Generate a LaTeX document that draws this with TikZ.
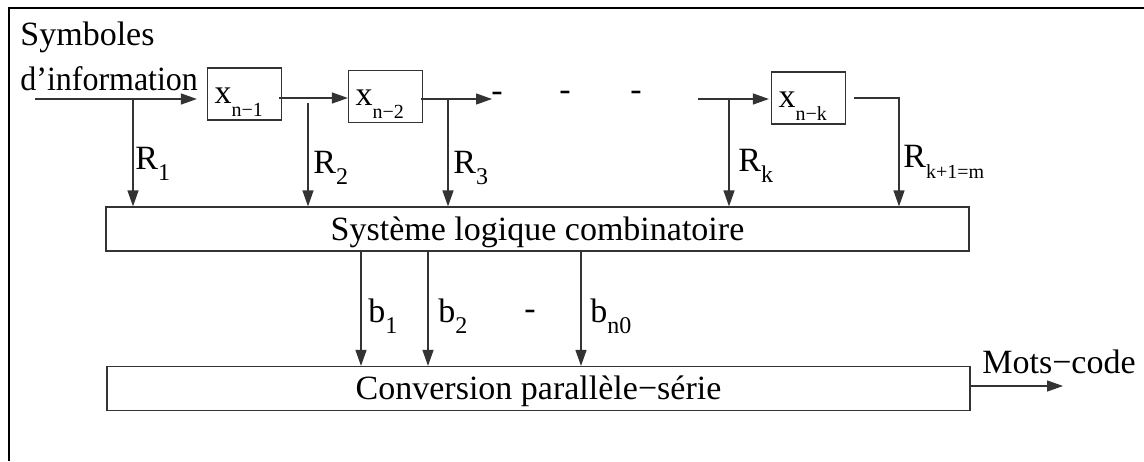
\documentclass[tikz,border=0pt]{standalone}
\usepackage{fontspec}
\setmainfont{Liberation Serif}
\usetikzlibrary{arrows.meta}
\newcommand{\sbx}[2]{#1\raisebox{-6.5pt}{\fontsize{10}{10}\selectfont #2}}
\newcommand{\sbr}[2]{#1\raisebox{-5.5pt}{\fontsize{12}{12}\selectfont #2}}
\newcommand{\sbm}[2]{#1\raisebox{-5.5pt}{\fontsize{10}{10}\selectfont #2}}
\begin{document}
\begin{tikzpicture}[x=0.5pt,y=-0.5pt,font=\fontsize{17}{20}\selectfont,
  box/.style={draw=black!80,line width=0.6pt,inner sep=0pt},
  xbox/.style={box,minimum width=36.5pt,minimum height=26pt,text width=30pt,inner xsep=3.5pt,align=left,text height=12pt,text depth=3pt},
  wbox/.style={box,minimum width=431.5pt,minimum height=22pt,text height=14pt,text depth=3pt},
  conn/.style={draw=black!80,line width=0.6pt},
  arr/.style={conn,-{Triangle[length=8pt,width=5.5pt]}},
  lbl/.style={anchor=base west,inner sep=0pt}]
\useasboundingbox (0,0) rectangle (1144,461);
\draw[line width=1.2pt] (9,461) -- (9,8) -- (1144,8);
% texts
\node[lbl] (t1) at (20,45) {Symboles};
\node[lbl] (t2) at (20,90) {\scalebox{0.94}[1]{d’information}};
% boxes
\node[xbox] (xa) at (244.5,94) {\sbx{x}{n−1}};
\node[xbox] (xb) at (385.5,96.5) {\sbx{x}{n−2}};
\node[xbox] (xc) at (808.5,98) {\sbx{x}{n−k}};
\node[wbox] (lg) at (537.5,229) {Système logique combinatoire};
\node[wbox] (cv) at (538.5,388.5) {Conversion parallèle−série};
% coordinates
\coordinate (in) at (35,99);
\coordinate (j1) at (133,99);
\coordinate (a1) at (279,98);
\coordinate (j2) at (308,103);
\coordinate (a2) at (421,99);
\coordinate (d0) at (492,99);
\coordinate (j3) at (448,99);
\coordinate (a3) at (698,99);
\coordinate (j4) at (729,99);
\coordinate (a4) at (854,98);
\coordinate (c4) at (899,98);
\coordinate (b1) at (361,300);
\coordinate (b2) at (428,300);
\coordinate (b3) at (581,300);
\coordinate (out) at (1063,386);
% connectors
\draw[arr,shorten >=5pt] (in) -- (in -| xa.west);
\draw[arr] (j1) -- (j1 |- lg.north);
\draw[arr] (a1) -- (a1 -| xb.west);
\draw[arr] (j2) -- (j2 |- lg.north);
\draw[arr] (a2) -- (d0);
\draw[arr] (j3) -- (j3 |- lg.north);
\draw[arr,shorten >=1pt] (a3) -- (a3 -| xc.west);
\draw[arr] (j4) -- (j4 |- lg.north);
\draw[arr] (a4) -- (c4) -- (c4 |- lg.north);
\draw[arr] (b1 |- lg.south) -- (b1 |- cv.north);
\draw[arr] (b2 |- lg.south) -- (b2 |- cv.north);
\draw[arr] (b3 |- lg.south) -- (b3 |- cv.north);
\draw[arr] (cv.east |- out) -- (out);
% labels
\node[lbl] (r1) at (135,169) {\sbr{R}{1}};
\node[lbl] (r2) at (313,173) {\sbr{R}{2}};
\node[lbl] (r3) at (453,173) {\sbr{R}{3}};
\node[lbl] (rk) at (738,171) {\sbr{R}{k}};
\node[lbl] (rm) at (903,167) {\sbm{R}{k+1=m}};
\node[lbl] (lb1) at (368,322) {\sbr{b}{1}};
\node[lbl] (lb2) at (438,322) {\sbr{b}{2}};
\node[lbl] (lb3) at (590,322) {\sbr{b}{n0}};
\node[inner sep=0pt] (dm) at (530,315) {-};
\node[inner sep=0pt] (dt0) at (497,97) {-};
\node[inner sep=0pt] (dt1) at (565,96) {-};
\node[inner sep=0pt] (dt2) at (636,96) {-};
\node[lbl] (mc) at (982,373) {Mots−code};
\end{tikzpicture}
\end{document}
